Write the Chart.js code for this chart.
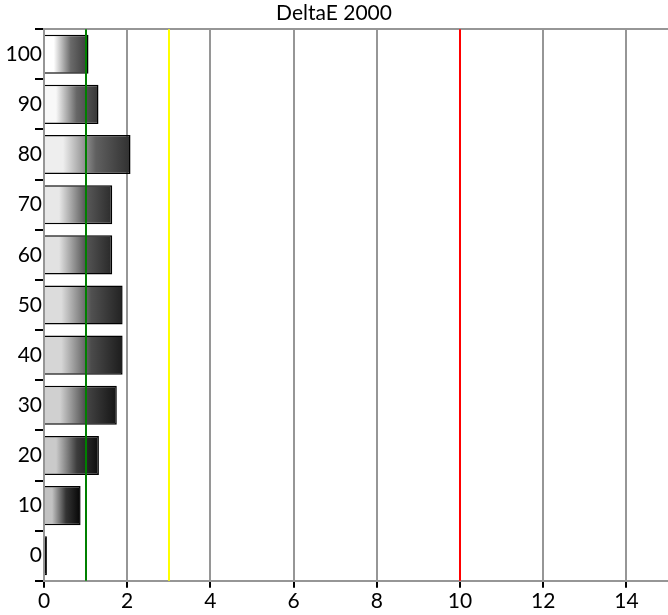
<!DOCTYPE html>
<html>
<head>
<meta charset="utf-8">
<script src="https://cdn.jsdelivr.net/npm/chart.js@4.4.1/dist/chart.umd.min.js"></script>
<style>
  html, body { margin: 0; padding: 0; background: #fff; }
  #wrap { width: 668px; height: 615px; }
</style>
</head>
<body>
<div id="wrap"><canvas id="deltaChart"></canvas></div>
<script>
// grey levels, top to bottom
const levels = ["100", "90", "80", "70", "60", "50", "40", "30", "20", "10", "0"];
const deltaE = [1.07, 1.31, 2.08, 1.64, 1.64, 1.89, 1.89, 1.75, 1.32, 0.88, 0.07];
// left (light) and right (dark) shade of each bar
const lightShade = ["#ffffff", "#f8f8f8", "#eeeeee", "#e8e8e8", "#e2e2e2", "#dcdcdc", "#d6d6d6", "#d0d0d0", "#cacaca", "#c2c2c2", "#000000"];
const darkShade = ["#383838", "#353535", "#303030", "#2c2c2c", "#282828", "#222222", "#1c1c1c", "#141414", "#0c0c0c", "#050505", "#000000"];
const xTicks = [0, 2, 4, 6, 8, 10, 12, 14];
const refLines = [
    { value: 1, color: "#008000" },
    { value: 3, color: "#ffff00" },
    { value: 10, color: "#ff0000" },
];

const FONT = "Lato, 'Open Sans', sans-serif";

function mix(a, b, t) {
    const pa = parseInt(a.slice(1), 16), pb = parseInt(b.slice(1), 16);
    const c = [16, 8, 0].map(s => {
        const va = (pa >> s) & 255, vb = (pb >> s) & 255;
        return Math.round(va + (vb - va) * t);
    });
    return "rgb(" + c.join(",") + ")";
}

function barFill(ctx) {
    const chart = ctx.chart;
    const i = ctx.dataIndex;
    const x = chart.scales.x;
    if (!chart.chartArea || !x) {
        return darkShade[i];
    }
    const x0 = x.getPixelForValue(0);
    const x1 = x.getPixelForValue(deltaE[i]);
    if (x1 - x0 < 2) {
        return darkShade[i];
    }
    const g = chart.ctx.createLinearGradient(x0, 0, x1, 0);
    g.addColorStop(0, lightShade[i]);
    g.addColorStop(0.22, lightShade[i]);
    g.addColorStop(0.45, mix(lightShade[i], darkShade[i], 0.45));
    g.addColorStop(0.6, mix(lightShade[i], darkShade[i], 0.75));
    g.addColorStop(1, darkShade[i]);
    return g;
}

const refLinePlugin = {
    id: "refLines",
    afterDatasetsDraw(chart) {
        const { ctx, chartArea, scales } = chart;
        ctx.save();
        refLines.forEach(r => {
            const px = Math.round(scales.x.getPixelForValue(r.value));
            ctx.strokeStyle = r.color;
            ctx.lineWidth = 2;
            ctx.beginPath();
            ctx.moveTo(px, chartArea.top);
            ctx.lineTo(px, chartArea.bottom);
            ctx.stroke();
        });
        ctx.restore();
    },
};

new Chart(document.getElementById("deltaChart"), {
    type: "bar",
    data: {
        labels: levels,
        datasets: [{
            data: deltaE,
            backgroundColor: barFill,
            borderColor: "#000",
            borderWidth: 1.5,
            barPercentage: 0.78,
            categoryPercentage: 1,
        }],
    },
    options: {
        indexAxis: "y",
        responsive: true,
        maintainAspectRatio: false,
        animation: false,
        layout: { padding: { left: 0, right: 0, top: 0, bottom: 0 } },
        plugins: {
            legend: { display: false },
            tooltip: { enabled: false },
            title: {
                display: true,
                text: "DeltaE 2000",
                color: "#000",
                font: { family: FONT, size: 21, weight: "normal" },
                padding: { top: 1, bottom: 3 },
            },
        },
        scales: {
            x: {
                type: "linear",
                min: 0,
                max: 15,
                afterBuildTicks(scale) {
                    scale.ticks = xTicks.map(v => ({ value: v }));
                },
                grid: {
                    color: "rgb(150,150,150)",
                    lineWidth: 2,
                    tickColor: "#000",
                    tickLength: 7,
                },
                border: { color: "rgb(150,150,150)", width: 2 },
                ticks: {
                    color: "#000",
                    padding: 1,
                    maxRotation: 0,
                    font: { family: FONT, size: 21 },
                },
            },
            y: {
                afterFit(scale) {
                    scale.width = 44;
                },
                grid: {
                    offset: true,
                    drawOnChartArea: true,
                    color: c => (c.index === 0 ? "rgb(150,150,150)" : "rgba(0,0,0,0)"),
                    lineWidth: 2,
                    tickColor: "#000",
                    tickLength: 9,
                },
                border: { color: "rgb(150,150,150)", width: 2 },
                ticks: {
                    color: "#000",
                    padding: -7,
                    font: { family: FONT, size: 21 },
                },
            },
        },
    },
    plugins: [refLinePlugin],
});
</script>
</body>
</html>
